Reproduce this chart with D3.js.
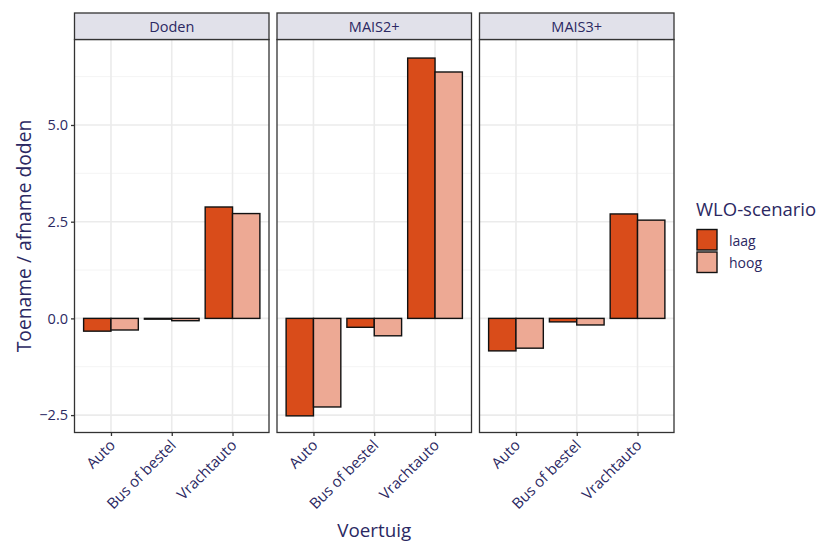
<!DOCTYPE html>
<html>
<head>
<meta charset="utf-8">
<script src="https://cdn.jsdelivr.net/npm/d3@7"></script>
<style>
  body { margin: 0; background: #fff; }
  text { font-family: "Open Sans", "Noto Sans", sans-serif; }
</style>
</head>
<body>
<div id="chart"></div>
<script>
const panels = ["Doden", "MAIS2+", "MAIS3+"];
const voertuigen = ["Auto", "Bus of bestel", "Vrachtauto"];
const scenarios = ["laag", "hoog"];
const laag = [
  [-0.33, -0.02, 2.88],
  [-2.52, -0.23, 6.73],
  [-0.84, -0.09, 2.70]
];
const hoog = [
  [-0.30, -0.06, 2.71],
  [-2.29, -0.45, 6.37],
  [-0.77, -0.17, 2.54]
];
const yTicks = [-2.5, 0, 2.5, 5];
const yMinor = [-1.25, 1.25, 3.75, 6.25];
const colors = {laag: "#d94c1a", hoog: "#eda994"};

const W = 818, H = 542;
const ink = "#2b2862";
const panelLeft = [74.5, 277, 479.5];
const panelW = 194.5;
const pTop = 39.5, pBottom = 432.5, stripH = 26.5;

const svg = d3.select("#chart").append("svg")
  .attr("width", W).attr("height", H);

const y = d3.scaleLinear().domain([-2.95, 7.21]).range([pBottom, pTop]);

panels.forEach((p, pi) => {
  const x0 = panelLeft[pi];
  const x = d3.scalePoint().domain(voertuigen).range([0, panelW]).padding(0.6);
  const step = x.step();
  const xs = d3.scaleBand().domain(scenarios).range([-0.45 * step, 0.45 * step]);
  const g = svg.append("g").attr("transform", `translate(${x0},0)`);

  // grid
  g.selectAll(".ymin").data(yMinor).join("line")
    .attr("x1", 0).attr("x2", panelW)
    .attr("y1", d => y(d)).attr("y2", d => y(d))
    .attr("stroke", "#f4f4f4").attr("stroke-width", 1);
  g.selectAll(".ymaj").data(yTicks).join("line")
    .attr("x1", 0).attr("x2", panelW)
    .attr("y1", d => y(d)).attr("y2", d => y(d))
    .attr("stroke", "#ebebeb").attr("stroke-width", 1.6);
  g.selectAll(".xmaj").data(voertuigen).join("line")
    .attr("x1", d => x(d)).attr("x2", d => x(d))
    .attr("y1", pTop).attr("y2", pBottom)
    .attr("stroke", "#ebebeb").attr("stroke-width", 1.6);

  // bars
  const rows = [];
  voertuigen.forEach((v, vi) => {
    rows.push({v, s: "laag", val: laag[pi][vi]});
    rows.push({v, s: "hoog", val: hoog[pi][vi]});
  });
  g.selectAll("rect.bar").data(rows).join("rect")
    .attr("class", "bar")
    .attr("x", d => x(d.v) + xs(d.s))
    .attr("width", xs.bandwidth())
    .attr("y", d => Math.min(y(d.val), y(0)))
    .attr("height", d => Math.abs(y(d.val) - y(0)))
    .attr("fill", d => colors[d.s])
    .attr("stroke", "#111").attr("stroke-width", 1.4);

  // border
  g.append("rect").attr("x", 0).attr("y", pTop).attr("width", panelW).attr("height", pBottom - pTop)
    .attr("fill", "none").attr("stroke", "#333").attr("stroke-width", 1.3);

  // strip
  g.append("rect").attr("x", 0).attr("y", pTop - stripH).attr("width", panelW).attr("height", stripH)
    .attr("fill", "#e1e1ea").attr("stroke", "#333").attr("stroke-width", 1.3);
  g.append("text").attr("x", panelW / 2).attr("y", pTop - stripH / 2)
    .attr("text-anchor", "middle").attr("dominant-baseline", "central")
    .attr("font-size", 14.5).attr("fill", ink).text(p);

  // x axis
  const xa = g.append("g").attr("transform", `translate(0,${pBottom})`)
    .call(d3.axisBottom(x).tickSize(3.5).tickPadding(3));
  xa.select(".domain").remove();
  xa.selectAll(".tick line").attr("stroke", "#333").attr("stroke-width", 1.3);
  xa.selectAll(".tick text")
    .attr("font-size", 15).attr("fill", ink)
    .attr("text-anchor", "end")
    .attr("x", 0).attr("y", 0)
    .attr("dy", "0.35em")
    .attr("transform", "translate(1,10) rotate(-45)");

  if (pi === 0) {
    const ya = g.append("g").call(d3.axisLeft(y).tickValues(yTicks)
      .tickFormat(d3.format(".1f")).tickSize(3.5).tickPadding(3));
    ya.select(".domain").remove();
    ya.selectAll(".tick line").attr("stroke", "#333").attr("stroke-width", 1.3);
    ya.selectAll(".tick text").attr("font-size", 14.5).attr("fill", ink)
      .text(d => d < 0 ? "\u2212" + d3.format(".1f")(-d) : d3.format(".1f")(d));
  }
});

// axis titles
svg.append("text")
  .attr("transform", `translate(31,${(pTop + pBottom) / 2}) rotate(-90)`)
  .attr("text-anchor", "middle").attr("font-size", 19.3).attr("fill", ink)
  .text("Toename / afname doden");
svg.append("text")
  .attr("x", (panelLeft[0] + panelLeft[2] + panelW) / 2).attr("y", 537)
  .attr("text-anchor", "middle").attr("font-size", 18.8).attr("fill", ink)
  .text("Voertuig");

// legend
const lg = svg.append("g").attr("transform", "translate(696,0)");
lg.append("text").attr("x", 0).attr("y", 216).attr("font-size", 18.5).attr("fill", ink)
  .text("WLO-scenario");
scenarios.forEach((s, i) => {
  lg.append("rect").attr("x", 1).attr("y", 229.5 + i * 22.5).attr("width", 20).attr("height", 20.5)
    .attr("fill", colors[s]).attr("stroke", "#111").attr("stroke-width", 1.4);
  lg.append("text").attr("x", 33).attr("y", 240 + i * 22.5)
    .attr("dominant-baseline", "central").attr("font-size", 14).attr("fill", ink).text(s);
});
</script>
</body>
</html>
